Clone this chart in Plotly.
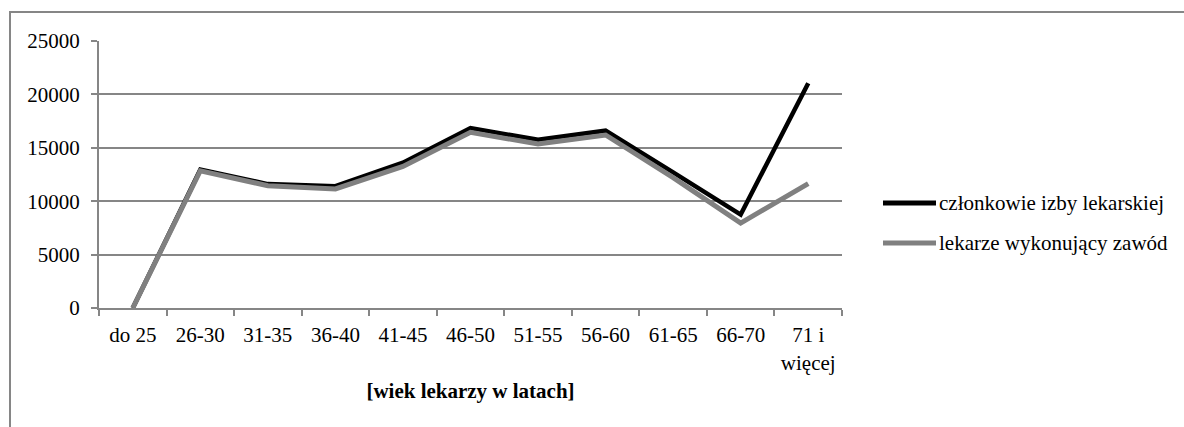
import plotly.graph_objects as go

categories = ["do 25", "26-30", "31-35", "36-40", "41-45", "46-50", "51-55",
              "56-60", "61-65", "66-70", "71 i<br>więcej"]
czlonkowie = [0, 12950, 11600, 11400, 13600, 16850, 15750, 16600, 12700, 8750, 21050]
wykonujacy = [0, 12850, 11450, 11150, 13250, 16450, 15350, 16200, 12200, 7950, 11650]
series_names = ["członkowie izby lekarskiej", "lekarze wykonujący zawód"]
series_colors = ["#000000", "#808080"]
y_ticks = [0, 5000, 10000, 15000, 20000, 25000]

W, H = 1184, 427
ML, MR, MT, MB = 99, 342, 41, 119
PW = W - ML - MR
PH = H - MT - MB

def px_x(p):
    return (p - ML) / PW

def px_y(p):
    return (H - MB - p) / PH

font_family = "Times New Roman, Liberation Serif, DejaVu Serif, serif"
grid_col = "#868686"

fig = go.Figure()
for vals, name, col, w in zip([czlonkowie, wykonujacy], series_names,
                              series_colors, [4.5, 5]):
    fig.add_trace(go.Scatter(x=categories, y=vals, mode="lines", name=name,
                             line=dict(color=col, width=w), showlegend=False))

# legend drawn as line samples + labels
shapes = [dict(type="rect", xref="paper", yref="paper",
               x0=px_x(10), x1=px_x(1300), y0=px_y(560), y1=px_y(12),
               line=dict(color=grid_col, width=2), fillcolor="rgba(0,0,0,0)",
               layer="below")]
annotations = []
for i, (name, col) in enumerate(zip(series_names, series_colors)):
    yy = px_y(203 + 40 * i)
    shapes.append(dict(type="line", xref="paper", yref="paper",
                       x0=px_x(883), x1=px_x(936), y0=yy, y1=yy,
                       line=dict(color=col, width=5)))
    annotations.append(dict(xref="paper", yref="paper", x=px_x(937), y=yy,
                            xanchor="left", yanchor="middle", text=name,
                            showarrow=False,
                            font=dict(size=21, family=font_family, color="#000000")))

fig.update_layout(
    width=W, height=H,
    margin=dict(l=ML, r=MR, t=MT, b=MB),
    paper_bgcolor="white", plot_bgcolor="white",
    font=dict(family=font_family, size=21, color="#000000"),
    showlegend=False,
    xaxis=dict(
        type="category", categoryorder="array", categoryarray=categories,
        showline=True, linecolor=grid_col, linewidth=2,
        ticks="outside", ticklen=6, tickcolor=grid_col, tickwidth=2,
        tickson="boundaries", showgrid=False, zeroline=False,
        tickfont=dict(size=21, family=font_family),
        ticklabelstandoff=7,
        title=dict(text="<b>[wiek lekarzy w latach]</b>", standoff=10,
                   font=dict(size=21, family=font_family)),
        range=[-0.5, 10.5],
    ),
    yaxis=dict(
        range=[0, 25000], tickvals=y_ticks, tickformat="d",
        showline=True, linecolor=grid_col, linewidth=2,
        ticks="outside", ticklen=6, tickcolor=grid_col, tickwidth=2,
        showgrid=True, gridcolor=grid_col, gridwidth=1.5,
        zeroline=False, tickfont=dict(size=21, family=font_family),
        ticklabelstandoff=7,
    ),
    shapes=shapes,
    annotations=annotations,
)

fig.write_html("out.html", config={"displayModeBar": False},
               post_script="document.body.style.margin='0';")
